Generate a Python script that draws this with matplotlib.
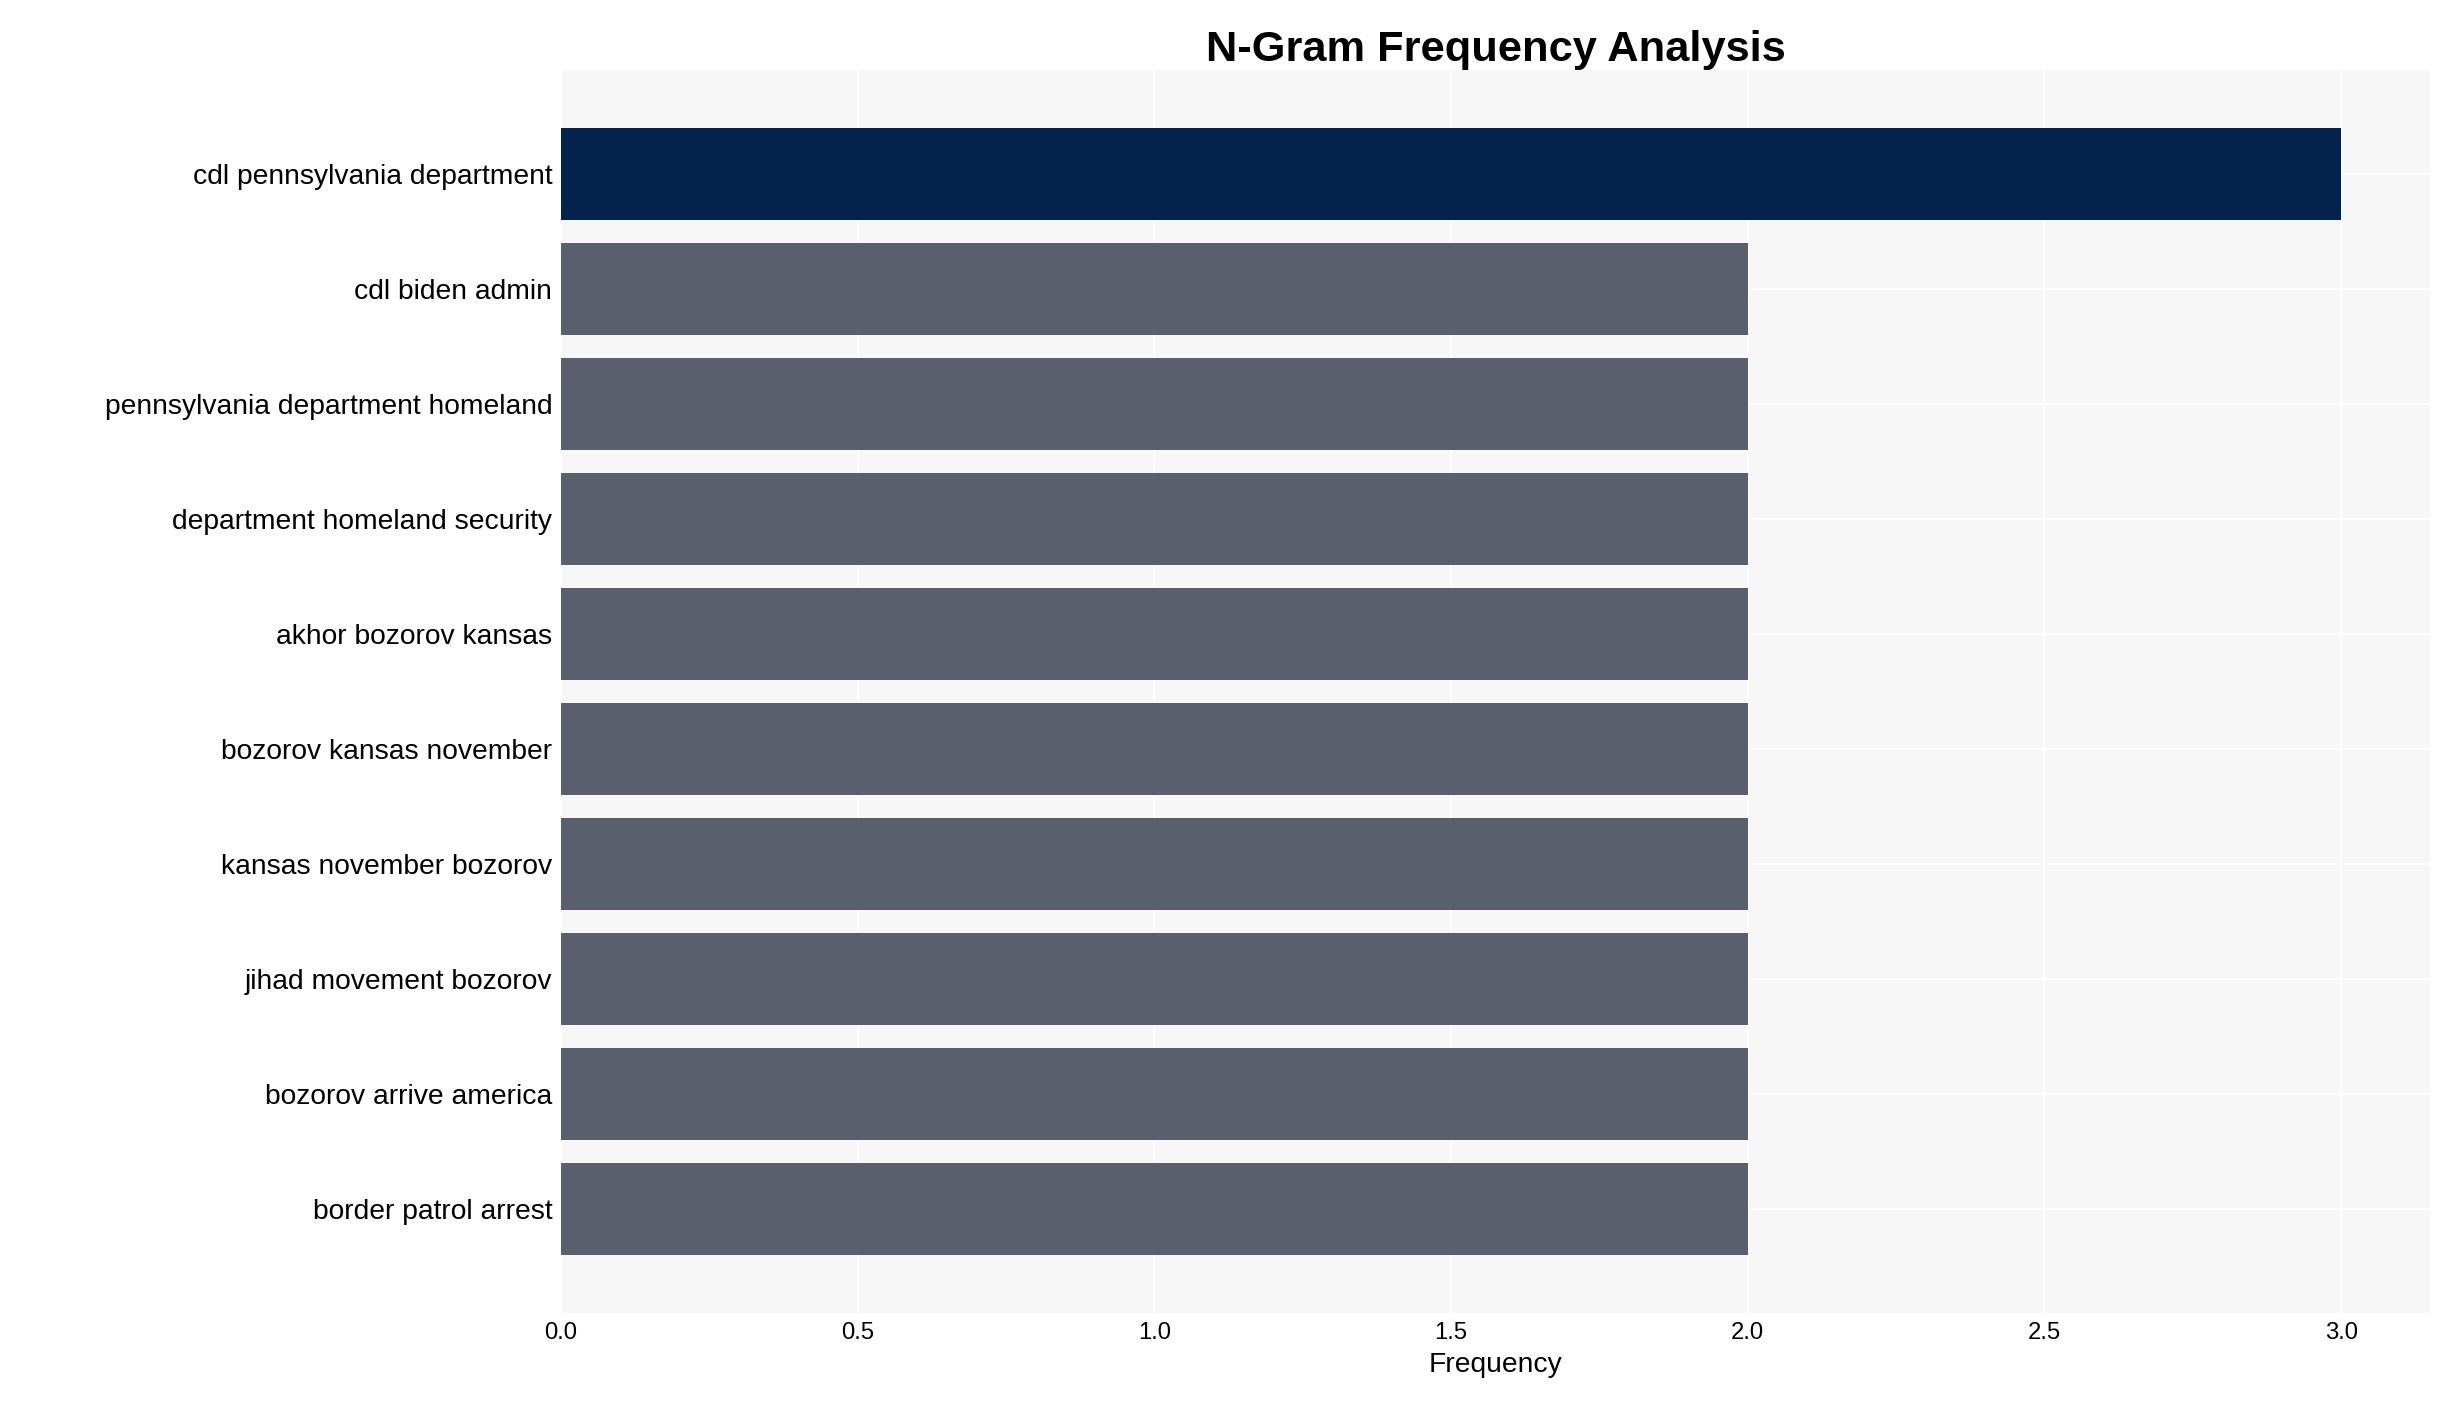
import matplotlib

matplotlib.use("Agg")
import matplotlib.pyplot as plt

ngrams = [
    "cdl pennsylvania department",
    "cdl biden admin",
    "pennsylvania department homeland",
    "department homeland security",
    "akhor bozorov kansas",
    "bozorov kansas november",
    "kansas november bozorov",
    "jihad movement bozorov",
    "bozorov arrive america",
    "border patrol arrest",
]
counts = [3, 2, 2, 2, 2, 2, 2, 2, 2, 2]

plt.rcParams["font.family"] = ["Arial", "Liberation Sans", "DejaVu Sans"]

fig = plt.figure(figsize=(2438 / 156.25, 1402 / 156.25), dpi=156.25)
ax = fig.add_axes([359 / 1560, 1 - 840 / 897, (1555 - 359) / 1560, (840 - 45) / 897])
ax.set_facecolor("#f7f7f7")
colors = ["#03234d"] + ["#5a5f6e"] * (len(counts) - 1)
ypos = list(range(len(ngrams)))
ax.barh(ypos, counts, color=colors, height=0.8, zorder=2)
ax.set_yticks(ypos)
ax.set_yticklabels(ngrams, fontsize=13)
ax.invert_yaxis()
ax.set_ylim(len(ngrams) - 0.5 + 0.0, -0.5 - 0.0)
ax.set_ylim(9.9, -0.9)
ax.set_xlim(0, 3.15)
ax.set_xticks([0, 0.5, 1.0, 1.5, 2.0, 2.5, 3.0])
ax.set_xticklabels(["0.0", "0.5", "1.0", "1.5", "2.0", "2.5", "3.0"], fontsize=11)
ax.grid(True, color="white", linewidth=1, zorder=0)
ax.tick_params(length=0, pad=4)
for s in ax.spines.values():
    s.set_visible(False)
ax.set_xlabel("Frequency", fontsize=13)
ax.set_title("N-Gram Frequency Analysis", fontsize=20, fontweight="bold", pad=4)
fig.savefig("out.png", dpi=156.25)
